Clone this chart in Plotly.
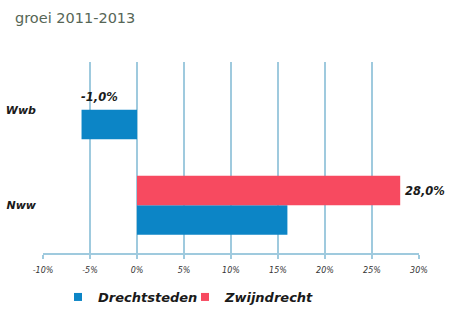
import plotly.graph_objects as go

categories = ["Nww", "Wwb"]
drechtsteden = [16.0, -5.9]
zwijndrecht = [28.0, -1.0]
zwijndrecht_labels = ["28,0%", "-1,0%"]
series_names = ["Drechtsteden", "Zwijndrecht"]
tick_vals = [-10, -5, 0, 5, 10, 15, 20, 25, 30]
tick_text = ["-10%", "-5%", "0%", "5%", "10%", "15%", "20%", "25%", "30%"]

blue = "#0c85c6"
red = "#f74a60"
grid = "#9fcade"

fig = go.Figure()
fig.add_trace(go.Bar(
    y=categories, x=drechtsteden, orientation="h", name=series_names[0],
    marker=dict(color=blue, line=dict(width=0)), showlegend=False,
))
fig.add_trace(go.Bar(
    y=categories, x=zwijndrecht, orientation="h", name=series_names[1],
    marker=dict(color=[red, "rgba(0,0,0,0)"], line=dict(width=0)), showlegend=False,
))
# legend entries with small square swatches
for name, col, lg in zip(series_names, [blue, red], ["legend", "legend2"]):
    fig.add_trace(go.Scatter(
        x=[None], y=[None], mode="markers", name=name, legend=lg,
        marker=dict(symbol="square", size=8, color=col),
    ))

fig.add_annotation(x=zwijndrecht[0], y=categories[0], text="<b><i>" + zwijndrecht_labels[0] + "</i></b>",
                   showarrow=False, xanchor="left", xshift=3, yshift=14,
                   font=dict(family="DejaVu Sans", size=11.5, color="#1a1a1a"))
fig.add_annotation(x=-4, y=categories[1], text="<b><i>" + zwijndrecht_labels[1] + "</i></b>",
                   showarrow=False, xanchor="center", yshift=13,
                   font=dict(family="DejaVu Sans", size=11.5, color="#1a1a1a"))

legend_font = dict(family="DejaVu Sans", size=13, color="#1a1a1a", weight="bold", style="italic")
fig.update_layout(
    width=451, height=310,
    margin=dict(l=43, r=32, t=62, b=57, autoexpand=False),
    paper_bgcolor="white", plot_bgcolor="white",
    barmode="group", bargap=0.38, bargroupgap=0,
    title=dict(text="groei 2011-2013", x=15/451, xanchor="left", y=1-18/310, yanchor="middle",
               font=dict(family="DejaVu Sans", size=14.5, color="#566656")),
    xaxis=dict(range=[-10, 30], tickvals=tick_vals, ticktext=tick_text, automargin=False,
               showgrid=True, gridcolor=grid, gridwidth=1.5, zeroline=False,
               showline=True, linecolor=grid, linewidth=1.5,
               ticks="outside", ticklen=4, tickcolor=grid, tickwidth=1.5,
               ticklabelstandoff=5,
               tickfont=dict(family="DejaVu Sans", size=8, color="#333333", style="italic")),
    yaxis=dict(showgrid=False, zeroline=False, showline=False, ticks="", automargin=False,
               ticklabelstandoff=6,
               tickfont=dict(family="DejaVu Sans", size=11, color="#1a1a1a", weight="bold", style="italic")),
    legend=dict(orientation="h", x=(58-43)/376, xanchor="left", y=(253-297)/191, yanchor="middle",
                font=legend_font, itemwidth=30, itemclick=False, bgcolor="rgba(0,0,0,0)"),
    legend2=dict(orientation="h", x=(185-43)/376, xanchor="left", y=(253-297)/191, yanchor="middle",
                 font=legend_font, itemwidth=30, itemclick=False, bgcolor="rgba(0,0,0,0)"),
)

fig.write_html("out.html", post_script="document.body.style.margin='0';",
               config={"displayModeBar": False})
